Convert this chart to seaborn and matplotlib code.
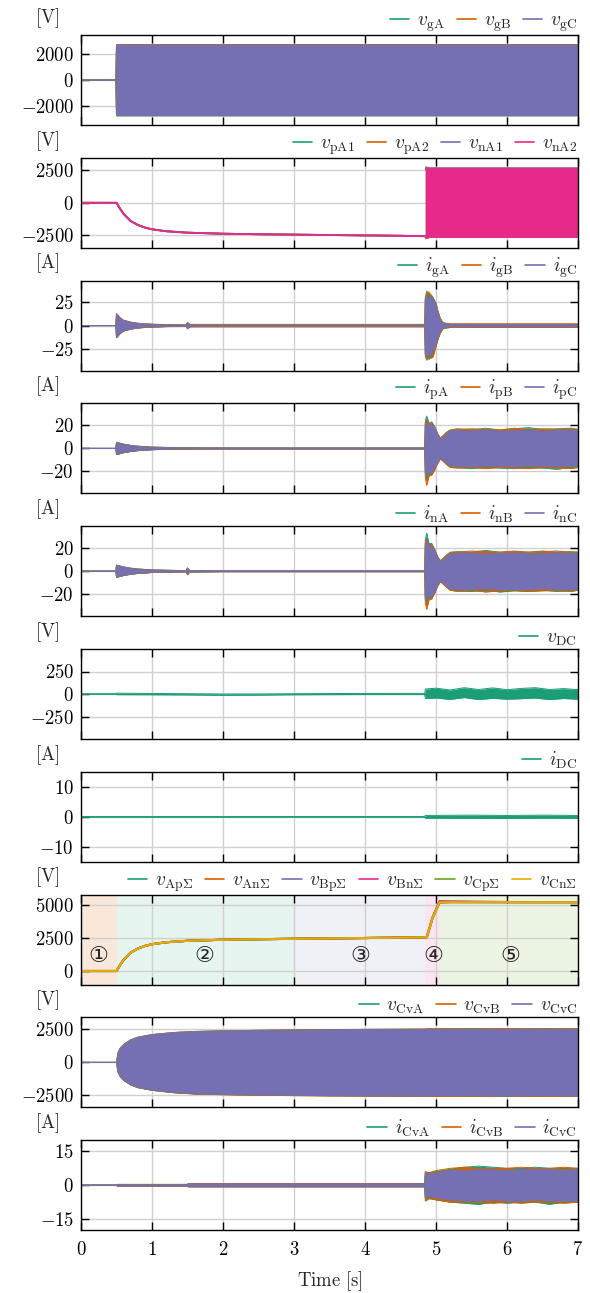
import matplotlib
matplotlib.use("Agg")
import matplotlib.pyplot as plt
from matplotlib.lines import Line2D
from matplotlib.ticker import FuncFormatter, FixedLocator
import pandas as pd
import seaborn as sns

# ---------------- data ----------------
x_ticks = [0, 1, 2, 3, 4, 5, 6, 7]

# panel 1: grid voltages, envelope of the sinusoids [V]
t_vg = [0.0, 0.49, 0.50, 7.0]
vgA_hi = [0, 0, 2720, 2720]
vgA_lo = [0, 0, -2740, -2740]
vgB_hi = [0, 0, 2710, 2710]
vgB_lo = [0, 0, -2730, -2730]
vgC_hi = [0, 0, 2700, 2700]
vgC_lo = [0, 0, -2720, -2720]

# panel 2: arm voltages, DC part then AC envelope [V]
t_arm_dc = [0, 0.5, 0.55, 0.6, 0.7, 0.8, 0.9, 1.0, 1.2, 1.5, 2.0, 2.5, 3.0, 3.5, 4.0, 4.5, 4.85]
vpA1_dc = [0, 0, -450, -850, -1400, -1700, -1900, -2030, -2180, -2290, -2370, -2410, -2440, -2470, -2500, -2530, -2560]
vpA2_dc = [0, 0, -450, -850, -1400, -1700, -1900, -2030, -2180, -2290, -2370, -2410, -2440, -2470, -2500, -2530, -2560]
vnA1_dc = [0, 0, -450, -850, -1400, -1700, -1900, -2030, -2180, -2290, -2370, -2410, -2440, -2470, -2500, -2530, -2560]
vnA2_dc = [0, 0, -450, -850, -1400, -1700, -1900, -2030, -2180, -2290, -2370, -2410, -2440, -2470, -2500, -2530, -2560]
t_arm_ac = [4.85, 4.86, 4.9, 7.0]
vpA1_hi = [2600, 2760, 2660, 2660]
vpA1_lo = [-2600, -2700, -2660, -2660]
vpA2_hi = [2600, 2700, 2660, 2660]
vpA2_lo = [-2600, -2760, -2660, -2660]
vnA1_hi = [2600, 2740, 2660, 2660]
vnA1_lo = [-2600, -2740, -2660, -2660]
vnA2_hi = [2560, 2650, 2650, 2650]
vnA2_lo = [-2560, -2680, -2650, -2650]

# panel 3: grid currents [A]
t_ig = [0, 0.49, 0.5, 0.55, 0.6, 0.7, 0.8, 1.0, 1.2, 1.48,
        1.5, 1.53, 1.6, 3.0, 4.84, 4.85, 4.87, 4.9, 4.93, 4.96,
        5.0, 5.03, 5.06, 5.1, 5.2, 7.0]
igA_hi = [0, 0, 12.5, 8.2, 5.6, 3.6, 2.4, 1.4, 1.0, 0.8, 3.2, 1.1, 0.8, 0.8, 0.8, 30, 37, 29, 33, 30, 23, 14, 7, 3, 1.4, 1.4]
igA_lo = [0, 0, -12.5, -8.2, -5.6, -3.6, -2.4, -1.4, -1.0, -0.8, -3.2, -1.1, -0.8, -0.8, -0.8, -31, -33, -36, -33, -28, -21, -13, -7, -3, -1.4, -1.4]
igB_hi = [0, 0, 12.8, 8.4, 5.7, 3.7, 2.5, 1.5, 1.1, 1.0, 3.4, 1.4, 1.3, 1.3, 1.3, 29, 35, 36, 32, 29, 24, 15, 8, 3, 2.0, 2.0]
igB_lo = [0, 0, -12.8, -8.4, -5.7, -3.7, -2.5, -1.5, -1.1, -1.0, -3.4, -1.4, -1.3, -1.3, -1.3, -33, -37, -30, -35, -33, -22, -14, -8, -3, -2.0, -2.0]
igC_hi = [0, 0, 12, 8, 5.5, 3.5, 2.3, 1.3, 0.9, 0.7, 3.0, 1.0, 0.7, 0.7, 0.7, 28, 32, 27, 31, 29, 22, 13, 6, 2.5, 1.2, 1.2]
igC_lo = [0, 0, -12, -8, -5.5, -3.5, -2.3, -1.3, -0.9, -0.7, -3.0, -1.0, -0.7, -0.7, -0.7, -30, -35, -28, -32, -27, -20, -12, -6, -2.5, -1.2, -1.2]

# panel 4: upper arm currents [A]
t_ip = [0, 0.49, 0.5, 0.6, 0.7, 0.8, 1.0, 1.3, 1.6, 2.0,
        4.84, 4.85, 4.87, 4.9, 4.94, 4.98, 5.02, 5.06, 5.1, 5.15,
        5.2, 5.3, 5.5, 5.7, 5.9, 6.1, 6.3, 6.5, 6.7, 6.9, 7.0]
ipA_hi = [0, 0, 5.3, 3.7, 2.6, 1.9, 1.1, 0.7, 0.5, 0.4, 0.4, 24, 28, 22, 23, 19, 13, 9, 11, 14, 16, 17, 16, 17.5, 16, 17, 18, 16.5, 17, 17.5, 16.5]
ipA_lo = [0, 0, -5.3, -3.7, -2.6, -1.9, -1.1, -0.7, -0.5, -0.4, -0.4, -22, -26, -21, -22, -18, -13, -9, -11, -14, -16, -16.5, -17.5, -16, -17, -17.5, -16.5, -17, -18, -16.5, -16.5]
ipB_hi = [0, 0, 5.2, 3.6, 2.6, 1.9, 1.1, 0.7, 0.5, 0.4, 0.4, 22, 25, 21, 22, 19, 13, 9, 11, 14, 15.5, 16.5, 17, 16.5, 16, 17.5, 16.5, 17, 16.5, 17, 16.5]
ipB_lo = [0, 0, -5.2, -3.6, -2.6, -1.9, -1.1, -0.7, -0.5, -0.4, -0.4, -26, -32, -24, -23, -19, -13, -9, -11, -14, -16.5, -17, -16.5, -17.5, -16.5, -17, -17.5, -16.5, -17, -17.5, -16.5]
ipC_hi = [0, 0, 5, 3.5, 2.5, 1.8, 1.0, 0.6, 0.4, 0.3, 0.3, 20, 23, 19, 21, 18, 12, 8, 10, 13, 15, 15.5, 15, 16, 15, 15.5, 16, 15, 15.5, 16, 15.5]
ipC_lo = [0, 0, -5, -3.5, -2.5, -1.8, -1.0, -0.6, -0.4, -0.3, -0.3, -21, -24, -20, -21, -17, -12, -8, -10, -13, -15, -15.5, -16, -15, -15.5, -16, -15, -15.5, -16, -15, -15.5]

# panel 5: lower arm currents [A]
t_in = [0, 0.49, 0.5, 0.6, 0.7, 0.8, 1.0, 1.3, 1.48, 1.5,
        1.53, 2.0, 4.84, 4.85, 4.87, 4.9, 4.94, 4.98, 5.02, 5.06,
        5.1, 5.15, 5.2, 5.3, 5.5, 5.7, 5.9, 6.1, 6.3, 6.5,
        6.7, 6.9, 7.0]
inA_hi = [0, 0, 5.3, 3.7, 2.6, 1.9, 1.1, 0.7, 0.5, 2.7, 0.6, 0.4, 0.4, 28, 33, 24, 24, 19, 13, 9, 11, 14, 16.5, 17, 16.5, 18, 16.5, 17, 16.5, 17.5, 16.5, 17, 16.5]
inA_lo = [0, 0, -5.3, -3.7, -2.6, -1.9, -1.1, -0.7, -0.5, -2.7, -0.6, -0.4, -0.4, -25, -27, -22, -23, -19, -13, -9, -11, -14, -16.5, -17, -17.5, -16.5, -18, -17, -17.5, -16.5, -17.5, -17, -16.5]
inB_hi = [0, 0, 5.2, 3.6, 2.6, 1.9, 1.1, 0.7, 0.5, 2.8, 0.6, 0.4, 0.4, 25, 28, 22, 23, 19, 13, 9, 11, 14, 16, 16.5, 17.5, 17, 16.5, 17.5, 16.5, 17, 17.5, 16.5, 16.5]
inB_lo = [0, 0, -5.2, -3.6, -2.6, -1.9, -1.1, -0.7, -0.5, -3.2, -0.6, -0.4, -0.4, -28, -33, -25, -24, -19, -13, -9, -11, -14, -16.5, -17.5, -16.5, -18, -17, -16.5, -17.5, -17, -16.5, -17.5, -16.5]
inC_hi = [0, 0, 5, 3.5, 2.5, 1.8, 1.0, 0.6, 0.4, 2.5, 0.5, 0.3, 0.3, 24, 26, 20, 22, 18, 12, 8, 10, 13, 15, 15.5, 16, 15, 15.5, 16, 15, 15.5, 16, 15.5, 15.5]
inC_lo = [0, 0, -5, -3.5, -2.5, -1.8, -1.0, -0.6, -0.4, -2.5, -0.5, -0.3, -0.3, -24, -25, -21, -22, -18, -12, -8, -10, -13, -15, -16, -15.5, -15, -16, -15.5, -16, -15, -15.5, -16, -15.5]

# panel 6: DC voltage [V]
t_vdc = [0, 0.49, 0.5, 1.0, 1.5, 2.0, 2.5, 3.0, 3.5, 4.0, 4.5, 4.84,
         4.85, 5.0, 5.2, 5.4, 5.6, 5.8, 6.0, 6.2, 6.4, 6.6, 6.8, 7.0]
vdc_hi = [3, 3, 9, 6, 3, 0, 0, 3, 5, 6, 7, 7, 55, 65, 45, 70, 50, 68, 48, 62, 70, 50, 60, 48]
vdc_lo = [-3, -3, -7, -8, -10, -14, -12, -8, -7, -6, -6, -6, -50, -45, -60, -40, -62, -48, -58, -52, -45, -62, -50, -58]

# panel 7: DC current [A]
t_idc = [0, 4.84, 4.85, 5.5, 6.0, 6.5, 7.0]
idc_hi = [0.1, 0.1, 0.45, 0.55, 0.45, 0.55, 0.45]
idc_lo = [-0.1, -0.1, -0.45, -0.5, -0.55, -0.45, -0.5]

# panel 8: sum capacitor voltages [V]
t_sum = [0, 0.5, 0.55, 0.6, 0.7, 0.8, 0.9, 1.0, 1.2, 1.5,
         2.0, 2.5, 3.0, 3.5, 4.0, 4.5, 4.87, 4.95, 5.05, 5.2, 6.0, 7.0]
v_ApS = [0, 0, 450, 850, 1400, 1700, 1900, 2030, 2180, 2290, 2370, 2410, 2440, 2470, 2500, 2530, 2560, 4000, 5200, 5220, 5220, 5220]
v_AnS = [0, 0, 450, 850, 1400, 1700, 1900, 2030, 2180, 2290, 2370, 2410, 2440, 2470, 2500, 2530, 2560, 4000, 5210, 5230, 5220, 5220]
v_BpS = [0, 0, 450, 850, 1400, 1700, 1900, 2030, 2180, 2290, 2370, 2410, 2440, 2470, 2500, 2530, 2560, 4000, 5220, 5230, 5220, 5220]
v_BnS = [0, 0, 450, 850, 1400, 1700, 1900, 2030, 2180, 2290, 2370, 2410, 2440, 2470, 2500, 2530, 2560, 4050, 5300, 5280, 5230, 5220]
v_CpS = [0, 0, 450, 850, 1400, 1700, 1900, 2030, 2180, 2290, 2370, 2410, 2440, 2470, 2500, 2530, 2560, 4000, 5200, 5220, 5220, 5220]
v_CnS = [0, 0, 450, 850, 1400, 1700, 1900, 2030, 2180, 2290, 2370, 2410, 2440, 2470, 2500, 2530, 2560, 4000, 5200, 5220, 5220, 5220]
stage_edges = [0.0, 0.5, 3.0, 4.85, 5.05, 7.0]
stage_labels = ["①", "②", "③", "④", "⑤"]
stage_label_x = [0.24, 1.74, 3.94, 4.97, 6.05]
stage_label_y = [1150, 1150, 1150, 1150, 1150]

# panel 9: converter voltages [V]
t_cv = [0, 0.5, 0.52, 0.55, 0.6, 0.7, 0.8, 1.0, 1.3, 1.6,
        2.0, 2.5, 3.0, 3.5, 4.0, 4.5, 4.85, 4.87, 5.5, 6.0, 6.5, 7.0]
vCvA_hi = [0, 0, 700, 1050, 1350, 1700, 1900, 2100, 2250, 2330, 2380, 2420, 2450, 2470, 2490, 2500, 2510, 2540, 2560, 2530, 2560, 2540]
vCvA_lo = [0, 0, -700, -1050, -1350, -1700, -1900, -2100, -2270, -2370, -2420, -2460, -2490, -2510, -2520, -2530, -2540, -2560, -2540, -2570, -2540, -2560]
vCvB_hi = [0, 0, 700, 1050, 1350, 1700, 1900, 2100, 2260, 2340, 2390, 2430, 2460, 2480, 2500, 2510, 2520, 2550, 2530, 2560, 2530, 2550]
vCvB_lo = [0, 0, -700, -1050, -1350, -1700, -1900, -2110, -2290, -2390, -2440, -2480, -2510, -2530, -2540, -2550, -2560, -2570, -2560, -2540, -2570, -2540]
vCvC_hi = [0, 0, 700, 1050, 1350, 1700, 1900, 2100, 2250, 2330, 2380, 2420, 2450, 2470, 2490, 2500, 2510, 2500, 2500, 2500, 2500, 2500]
vCvC_lo = [0, 0, -700, -1050, -1350, -1700, -1900, -2100, -2270, -2370, -2420, -2460, -2490, -2510, -2520, -2530, -2540, -2520, -2520, -2520, -2520, -2520]

# panel 10: converter currents [A]
t_icv = [0, 0.5, 0.51, 1.5, 1.51, 4.84, 4.85, 4.9, 5.0, 5.2, 5.4, 5.6, 5.8, 6.0, 6.2, 6.4, 6.6, 6.8, 7.0]
iCvA_hi = [0.1, 0.1, 0.35, 0.35, 0.7, 0.7, 6.0, 5.5, 6.0, 7.0, 8.0, 8.5, 8.0, 7.5, 7.5, 8.0, 7.5, 7.5, 7.5]
iCvA_lo = [-0.1, -0.1, -0.35, -0.35, -0.7, -0.7, -6.0, -5.5, -6.5, -7.5, -8.0, -8.5, -7.5, -8.0, -7.5, -7.5, -8.5, -7.5, -7.5]
iCvB_hi = [0.1, 0.1, 0.35, 0.35, 0.7, 0.7, 6.0, 5.5, 6.5, 7.5, 8.0, 7.5, 7.5, 7.5, 8.0, 7.5, 7.5, 8.0, 7.5]
iCvB_lo = [-0.1, -0.1, -0.35, -0.35, -0.7, -0.7, -7.0, -6.0, -6.5, -7.5, -7.5, -7.5, -8.0, -7.5, -8.0, -7.5, -7.5, -8.0, -7.5]
iCvC_hi = [0.1, 0.1, 0.3, 0.3, 0.6, 0.6, 5.5, 5.0, 5.5, 6.5, 6.5, 7.0, 7.0, 6.5, 7.0, 7.0, 7.0, 6.5, 7.0]
iCvC_lo = [-0.1, -0.1, -0.3, -0.3, -0.6, -0.6, -5.5, -5.0, -5.5, -6.5, -7.0, -7.0, -6.5, -7.0, -7.0, -6.5, -7.0, -7.0, -7.0]

# axis settings per panel
units = ["V", "V", "A", "A", "A", "V", "A", "V", "V", "A"]
ylims = [(-3450, 3450), (-3450, 3450), (-48, 48), (-39, 39), (-39, 39),
         (-500, 500), (-15, 15), (-1030, 5790), (-3400, 3400), (-20, 20)]
yticks = [[-2000, 0, 2000], [-2500, 0, 2500], [-25, 0, 25], [-20, 0, 20], [-20, 0, 20],
          [-250, 0, 250], [-10, 0, 10], [0, 2500, 5000], [-2500, 0, 2500], [-15, 0, 15]]

# ---------------- style ----------------
sns.set_theme(style="white")
plt.rcParams["font.family"] = ["DejaVu Serif", "DejaVu Sans"]
plt.rcParams["mathtext.fontset"] = "cm"
pal = sns.color_palette("Dark2", 6)
FS = 13.5
LFS = 14

W, H = 590, 1293
fig = plt.figure(figsize=(W / 100, H / 100), dpi=100)
axes = []
for i in range(10):
    top = 35 + 122.8 * i
    ax = fig.add_axes([81 / W, 1 - (top + 90) / H, 497 / W, 90 / H])
    axes.append(ax)


def band(ax, t, lo, hi, color, lw=0.7):
    df = pd.DataFrame({"t": t, "lo": lo, "hi": hi})
    ax.fill_between(df["t"], df["lo"], df["hi"], color=color, linewidth=0)
    sns.lineplot(data=df, x="t", y="hi", ax=ax, color=color, lw=lw, estimator=None, sort=False)
    sns.lineplot(data=df, x="t", y="lo", ax=ax, color=color, lw=lw, estimator=None, sort=False)


def line(ax, t, v, color, lw=1.3):
    df = pd.DataFrame({"t": t, "v": v})
    sns.lineplot(data=df, x="t", y="v", ax=ax, color=color, lw=lw, estimator=None, sort=False)


def legend(ax, labels, colors, cs=0.6):
    handles = [Line2D([], [], color=c, lw=1.2) for c in colors]
    ax.legend(handles, labels, loc="lower right", bbox_to_anchor=(1.0, 1.0), ncol=len(labels),
              frameon=False, fontsize=LFS, handlelength=1.0, handletextpad=0.4,
              columnspacing=cs, borderaxespad=0.0, borderpad=0.05)


# panel 1
ax = axes[0]
band(ax, t_vg, vgA_lo, vgA_hi, pal[0])
band(ax, t_vg, vgB_lo, vgB_hi, pal[1])
band(ax, t_vg, vgC_lo, vgC_hi, pal[2])
legend(ax, [r"$v_{\mathrm{gA}}$", r"$v_{\mathrm{gB}}$", r"$v_{\mathrm{gC}}$"], pal[:3])

# panel 2
ax = axes[1]
for dc, hi, lo, c in [(vpA1_dc, vpA1_hi, vpA1_lo, pal[0]), (vpA2_dc, vpA2_hi, vpA2_lo, pal[1]),
                      (vnA1_dc, vnA1_hi, vnA1_lo, pal[2]), (vnA2_dc, vnA2_hi, vnA2_lo, pal[3])]:
    line(ax, t_arm_dc, dc, c)
    band(ax, t_arm_ac, lo, hi, c)
legend(ax, [r"$v_{\mathrm{pA1}}$", r"$v_{\mathrm{pA2}}$", r"$v_{\mathrm{nA1}}$", r"$v_{\mathrm{nA2}}$"], pal[:4])

# panel 3
ax = axes[2]
band(ax, t_ig, igA_lo, igA_hi, pal[0])
band(ax, t_ig, igB_lo, igB_hi, pal[1])
band(ax, t_ig, igC_lo, igC_hi, pal[2])
legend(ax, [r"$i_{\mathrm{gA}}$", r"$i_{\mathrm{gB}}$", r"$i_{\mathrm{gC}}$"], pal[:3])

# panel 4
ax = axes[3]
band(ax, t_ip, ipA_lo, ipA_hi, pal[0])
band(ax, t_ip, ipB_lo, ipB_hi, pal[1])
band(ax, t_ip, ipC_lo, ipC_hi, pal[2])
legend(ax, [r"$i_{\mathrm{pA}}$", r"$i_{\mathrm{pB}}$", r"$i_{\mathrm{pC}}$"], pal[:3])

# panel 5
ax = axes[4]
band(ax, t_in, inA_lo, inA_hi, pal[0])
band(ax, t_in, inB_lo, inB_hi, pal[1])
band(ax, t_in, inC_lo, inC_hi, pal[2])
legend(ax, [r"$i_{\mathrm{nA}}$", r"$i_{\mathrm{nB}}$", r"$i_{\mathrm{nC}}$"], pal[:3])

# panel 6
ax = axes[5]
band(ax, t_vdc, vdc_lo, vdc_hi, pal[0])
legend(ax, [r"$v_{\mathrm{DC}}$"], pal[:1])

# panel 7
ax = axes[6]
band(ax, t_idc, idc_lo, idc_hi, pal[0])
legend(ax, [r"$i_{\mathrm{DC}}$"], pal[:1])

# panel 8
ax = axes[7]
span_colors = [pal[1], pal[0], pal[2], pal[3], pal[4]]
span_alpha = [0.15, 0.10, 0.10, 0.12, 0.12]
for k in range(5):
    ax.axvspan(stage_edges[k], stage_edges[k + 1], color=span_colors[k], alpha=span_alpha[k], lw=0, zorder=0)
for v, c in zip([v_ApS, v_AnS, v_BpS, v_BnS, v_CpS, v_CnS], pal):
    line(ax, t_sum, v, c, lw=1.5)
for lab, x, y in zip(stage_labels, stage_label_x, stage_label_y):
    ax.text(x, y, lab, fontsize=16, ha="center", va="center", family=["DejaVu Sans"])
legend(ax, [r"$v_{\mathrm{Ap}\Sigma}$", r"$v_{\mathrm{An}\Sigma}$", r"$v_{\mathrm{Bp}\Sigma}$",
            r"$v_{\mathrm{Bn}\Sigma}$", r"$v_{\mathrm{Cp}\Sigma}$", r"$v_{\mathrm{Cn}\Sigma}$"], pal, cs=0.6)

# panel 9
ax = axes[8]
band(ax, t_cv, vCvA_lo, vCvA_hi, pal[0])
band(ax, t_cv, vCvB_lo, vCvB_hi, pal[1])
band(ax, t_cv, vCvC_lo, vCvC_hi, pal[2])
legend(ax, [r"$v_{\mathrm{CvA}}$", r"$v_{\mathrm{CvB}}$", r"$v_{\mathrm{CvC}}$"], pal[:3])

# panel 10
ax = axes[9]
band(ax, t_icv, iCvA_lo, iCvA_hi, pal[0])
band(ax, t_icv, iCvB_lo, iCvB_hi, pal[1])
band(ax, t_icv, iCvC_lo, iCvC_hi, pal[2])
legend(ax, [r"$i_{\mathrm{CvA}}$", r"$i_{\mathrm{CvB}}$", r"$i_{\mathrm{CvC}}$"], pal[:3])

fmt = FuncFormatter(lambda v, p: r"$%g$" % v)
for i, ax in enumerate(axes):
    ax.set_xlim(0, 7)
    ax.set_ylim(*ylims[i])
    ax.xaxis.set_major_locator(FixedLocator(x_ticks))
    ax.yaxis.set_major_locator(FixedLocator(yticks[i]))
    ax.yaxis.set_major_formatter(fmt)
    ax.xaxis.set_major_formatter(fmt)
    ax.set_xlabel("")
    ax.set_ylabel("")
    ax.grid(True, color="#d0d0d0", lw=1.0)
    ax.set_axisbelow(True)
    ax.tick_params(direction="in", length=6, width=1.0, colors="black", top=True, right=True,
                   bottom=True, left=True, labelsize=FS, pad=5)
    ax.tick_params(axis="x", pad=8)
    for s in ax.spines.values():
        s.set_color("black")
        s.set_linewidth(1.0)
    if i < 9:
        ax.tick_params(labelbottom=False)
    ax.annotate(r"$[\mathrm{" + units[i] + r"}]$", xy=(0, 1), xycoords="axes fraction",
                xytext=(-34, 17), textcoords="offset pixels", ha="center", va="center", fontsize=FS)

axes[9].set_xlabel(r"$\mathrm{Time\ [s]}$", fontsize=FS, labelpad=7)

fig.savefig("out.png", dpi=100)
